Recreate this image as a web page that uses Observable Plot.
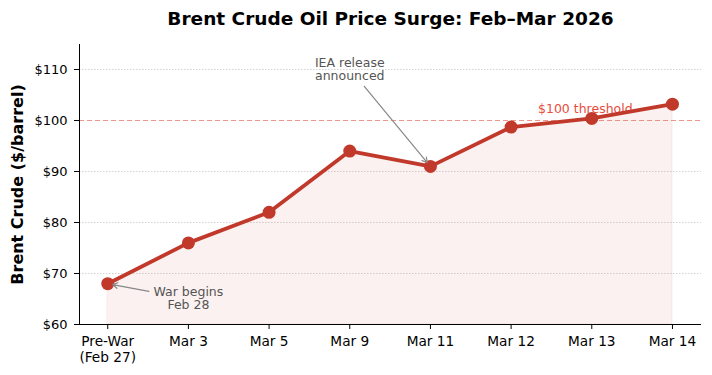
<!DOCTYPE html>
<html>
<head>
<meta charset="utf-8">
<script src="https://cdn.jsdelivr.net/npm/d3@7"></script>
<script src="https://cdn.jsdelivr.net/npm/@observablehq/plot@0.6"></script>
<style>
  html, body { margin: 0; padding: 0; background: #fff; }
  #chart svg { display: block; font-family: "DejaVu Sans", sans-serif; }
</style>
</head>
<body>
<div id="chart"></div>
<script>
// ---- data ----
const dateLabels = ["Pre-War\n(Feb 27)", "Mar 3", "Mar 5", "Mar 9", "Mar 11", "Mar 12", "Mar 13", "Mar 14"];
const prices = [68, 76, 82, 94, 91, 98.7, 100.4, 103.2];
const yTicks = [60, 70, 80, 90, 100, 110];
const threshold = 100;
const thresholdLabel = "$100 threshold";
const titleText = "Brent Crude Oil Price Surge: Feb–Mar 2026";
const yLabel = "Brent Crude ($/barrel)";
// annotations: text anchor (index, value), arrow from (index, value) to data point
const annotations = [
  {text: "War begins\nFeb 28", tx: 1.0, ty: 65.1, x1: 0.51, y1: 66.5, target: 0},
  {text: "IEA release\nannounced", tx: 3.0, ty: 110.1, x1: 3.18, y1: 106.7, target: 4}
];
const thresholdText = [{x: 5.92, y: 102.2, text: thresholdLabel}];

const data = prices.map((p, i) => ({i, label: dateLabels[i], price: p}));
const arrows = annotations.map(a => ({x1: a.x1, y1: a.y1, x2: a.target, y2: prices[a.target]}));

const xDomain = [-0.35, 7.36];
const yDomain = [60, 114.9];
const red = "#c0392b";

const chart = Plot.plot({
  width: 712,
  height: 375,
  marginLeft: 79,
  marginRight: 11,
  marginTop: 44,
  marginBottom: 51,
  style: {fontFamily: "DejaVu Sans, sans-serif", fontSize: "13px", color: "#000", background: "#fff"},
  x: {type: "linear", domain: xDomain},
  y: {domain: yDomain},
  marks: [
    // grid
    Plot.ruleY(yTicks.filter(t => t !== yDomain[0] && t !== threshold), {stroke: "#bbb", strokeWidth: 0.8, strokeDasharray: "1.5,1.5", strokeOpacity: 0.8}),
    // area
    Plot.areaY(data, {x: "i", y1: yDomain[0], y2: "price", fill: red, fillOpacity: 0.07, stroke: red, strokeOpacity: 0.08}),
    // threshold
    Plot.ruleY([threshold], {stroke: "#e74c3c", strokeOpacity: 0.6, strokeWidth: 1, strokeDasharray: "5,3"}),
    Plot.text(thresholdText, {x: "x", y: "y", text: "text", fill: "#e74c3c", fontSize: 12.5}),
    // line and points
    Plot.line(data, {x: "i", y: "price", stroke: red, strokeWidth: 3.8}),
    Plot.dot(data, {x: "i", y: "price", fill: red, r: 6.5}),
    // annotations
    Plot.arrow(arrows, {x1: "x1", y1: "y1", x2: "x2", y2: "y2", stroke: "#888", strokeWidth: 1.2, headLength: 7, insetEnd: 5}),
    Plot.text(annotations, {x: "tx", y: "ty", text: "text", fill: "#555", fontSize: 12.5, lineHeight: 1.05}),
    // spines
    Plot.ruleX([xDomain[0]], {stroke: "#000", strokeWidth: 1}),
    Plot.ruleY([yDomain[0]], {stroke: "#000", strokeWidth: 1}),
    // axes
    Plot.axisY({ticks: yTicks, tickFormat: d => "$" + d, tickSize: 5, tickPadding: 7, fontSize: 13, label: null}),
    Plot.axisX({ticks: d3.range(dateLabels.length), tickFormat: i => dateLabels[i], tickSize: 5, tickPadding: 6, fontSize: 13.7, label: null, lineHeight: 1.12}),
    // y label
    Plot.text([yLabel], {frameAnchor: "left", textAnchor: "middle", dx: -62, rotate: -90, text: d => d, fontSize: 16, fontWeight: "bold", fill: "#000"}),
    // title
    Plot.text([titleText], {frameAnchor: "top", lineAnchor: "middle", dy: -25, text: d => d, fontSize: 18.5, fontWeight: "bold", fill: "#000"})
  ]
});
document.getElementById("chart").appendChild(chart);
</script>
</body>
</html>
